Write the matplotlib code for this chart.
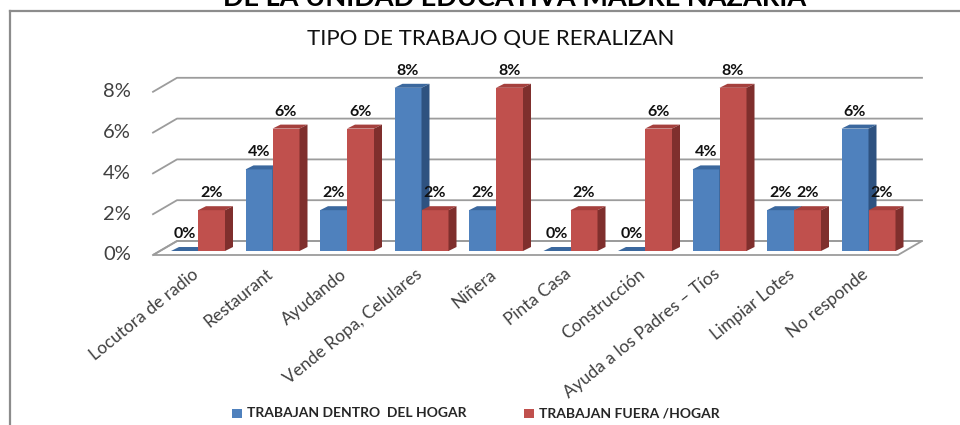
import numpy as np
import matplotlib
matplotlib.use("Agg")
import matplotlib.pyplot as plt
from matplotlib.patches import Polygon, Rectangle

plt.rcParams['font.family'] = ['Lato', 'DejaVu Sans']

# data
categorias = ['Locutora de radio', 'Restaurant', 'Ayudando', 'Vende Ropa, Celulares',
              'Niñera', 'Pinta Casa', 'Construcción', 'Ayuda a los Padres – Tíos',
              'Limpiar Lotes', 'No responde']
dentro_hogar = [0, 4, 2, 8, 2, 0, 0, 4, 2, 6]
fuera_hogar = [2, 6, 6, 2, 8, 2, 6, 8, 2, 2]
series_names = ['TRABAJAN DENTRO  DEL HOGAR', 'TRABAJAN FUERA /HOGAR']
y_ticks = [0, 2, 4, 6, 8]

# layout in pixels (figure is 960x425)
W, H = 960, 425
x0_px, step_px = 198, 74.5      # centre of first group, group spacing
y0_px, unit_px = 251, 20.4      # zero line of bars, pixels per 1%

def dx(px):
    return px / step_px

def dy(px):
    return px / unit_px

fig = plt.figure(figsize=(9.6, 4.25), dpi=100)
ax = fig.add_axes([0, 0, 1, 1])
ax.set_xlim((0 - x0_px) / step_px, (W - x0_px) / step_px)
ax.set_ylim((y0_px - H) / unit_px, y0_px / unit_px)
ax.axis('off')

# frame of the document box
fig.add_artist(plt.Line2D([10 / W, 10 / W], [0, 1 - 10.5 / H], color='#8c8c8c', lw=1.6))
fig.add_artist(plt.Line2D([10 / W, 1], [1 - 10.5 / H, 1 - 10.5 / H], color='#8c8c8c', lw=1.6))

# heading of the page (cut by the screenshot)
fig.text(515 / W, 1 - 6 / H, 'DE LA UNIDAD EDUCATIVA MADRE NAZARIA', ha='center',
         va='baseline', fontsize=19.5, fontweight='bold', color='black')
fig.text(491 / W, 1 - 45 / H, 'TIPO DE TRABAJO QUE RERALIZAN', ha='center',
         va='baseline', fontsize=16, color='#111111')

# pseudo 3D walls
depth_x, depth_y = dx(24), dy(14)
front_y = -dy(4)
front_left = dx(153 - x0_px)
front_right = dx(898 - x0_px)
back_left = front_left + depth_x
back_right = dx(922 - x0_px)
grid_c = '#9c9c9c'

floor = Polygon([(front_left, front_y), (front_right, front_y),
                 (back_right, front_y + depth_y), (back_left, front_y + depth_y)],
                closed=True, facecolor='white', edgecolor=grid_c, lw=1.3, zorder=1)
ax.add_patch(floor)
for v in y_ticks:
    yb = v + front_y + depth_y
    ax.plot([front_left, back_left, back_right], [v + front_y, yb, yb],
            color=grid_c, lw=1.3, zorder=1)
    ax.text(dx(131 - x0_px), v + front_y, f'{v}%', ha='right', va='center',
            fontsize=14.5, color='#404040')

# bars
n = len(categorias)
x = np.arange(n)
bw = dx(27)
bdx, bdy = dx(8), dy(4)
styles = [('#4f81bd', '#3b689e', '#2e5280'), ('#c0504d', '#a5403d', '#7f2f2d')]

for k, vals in enumerate([dentro_hogar, fuera_hogar]):
    front, top, side = styles[k]
    left = x - bw + k * bw
    ax.bar(left, vals, width=bw, align='edge', color=front, zorder=3 + k)
    for xl, v in zip(left, vals):
        ax.add_patch(Polygon([(xl, v), (xl + bw, v), (xl + bw + bdx, v + bdy), (xl + bdx, v + bdy)],
                             closed=True, facecolor=top, edgecolor='none', zorder=3 + k))
        ax.add_patch(Polygon([(xl + bw, 0), (xl + bw + bdx, bdy), (xl + bw + bdx, v + bdy), (xl + bw, v)],
                             closed=True, facecolor=side, edgecolor='none', zorder=3 + k))
        ax.text(xl + bw / 2, v + dy(17), f'{v}%', ha='center', va='center',
                fontsize=11.5, fontweight='bold', color='#111111', zorder=6)

# category labels
for i, lab in enumerate(categorias):
    ax.text(i - dx(7), (y0_px - 266) / unit_px, lab, rotation=39, rotation_mode='anchor',
            ha='right', va='top', fontsize=12.5, color='#404040')

# legend
leg_y = 413
for k, (name, st) in enumerate(zip(series_names, styles)):
    sx = [232, 524][k]
    fig.add_artist(Rectangle((sx / W, 1 - (leg_y + 4.5) / H), 10 / W, 9 / H,
                             transform=fig.transFigure, facecolor=st[0], edgecolor='none'))
    fig.text((sx + 15) / W, 1 - leg_y / H, name, ha='left', va='center',
             fontsize=10, fontweight='bold', color='#262626')

fig.savefig('out.png', dpi=100)
